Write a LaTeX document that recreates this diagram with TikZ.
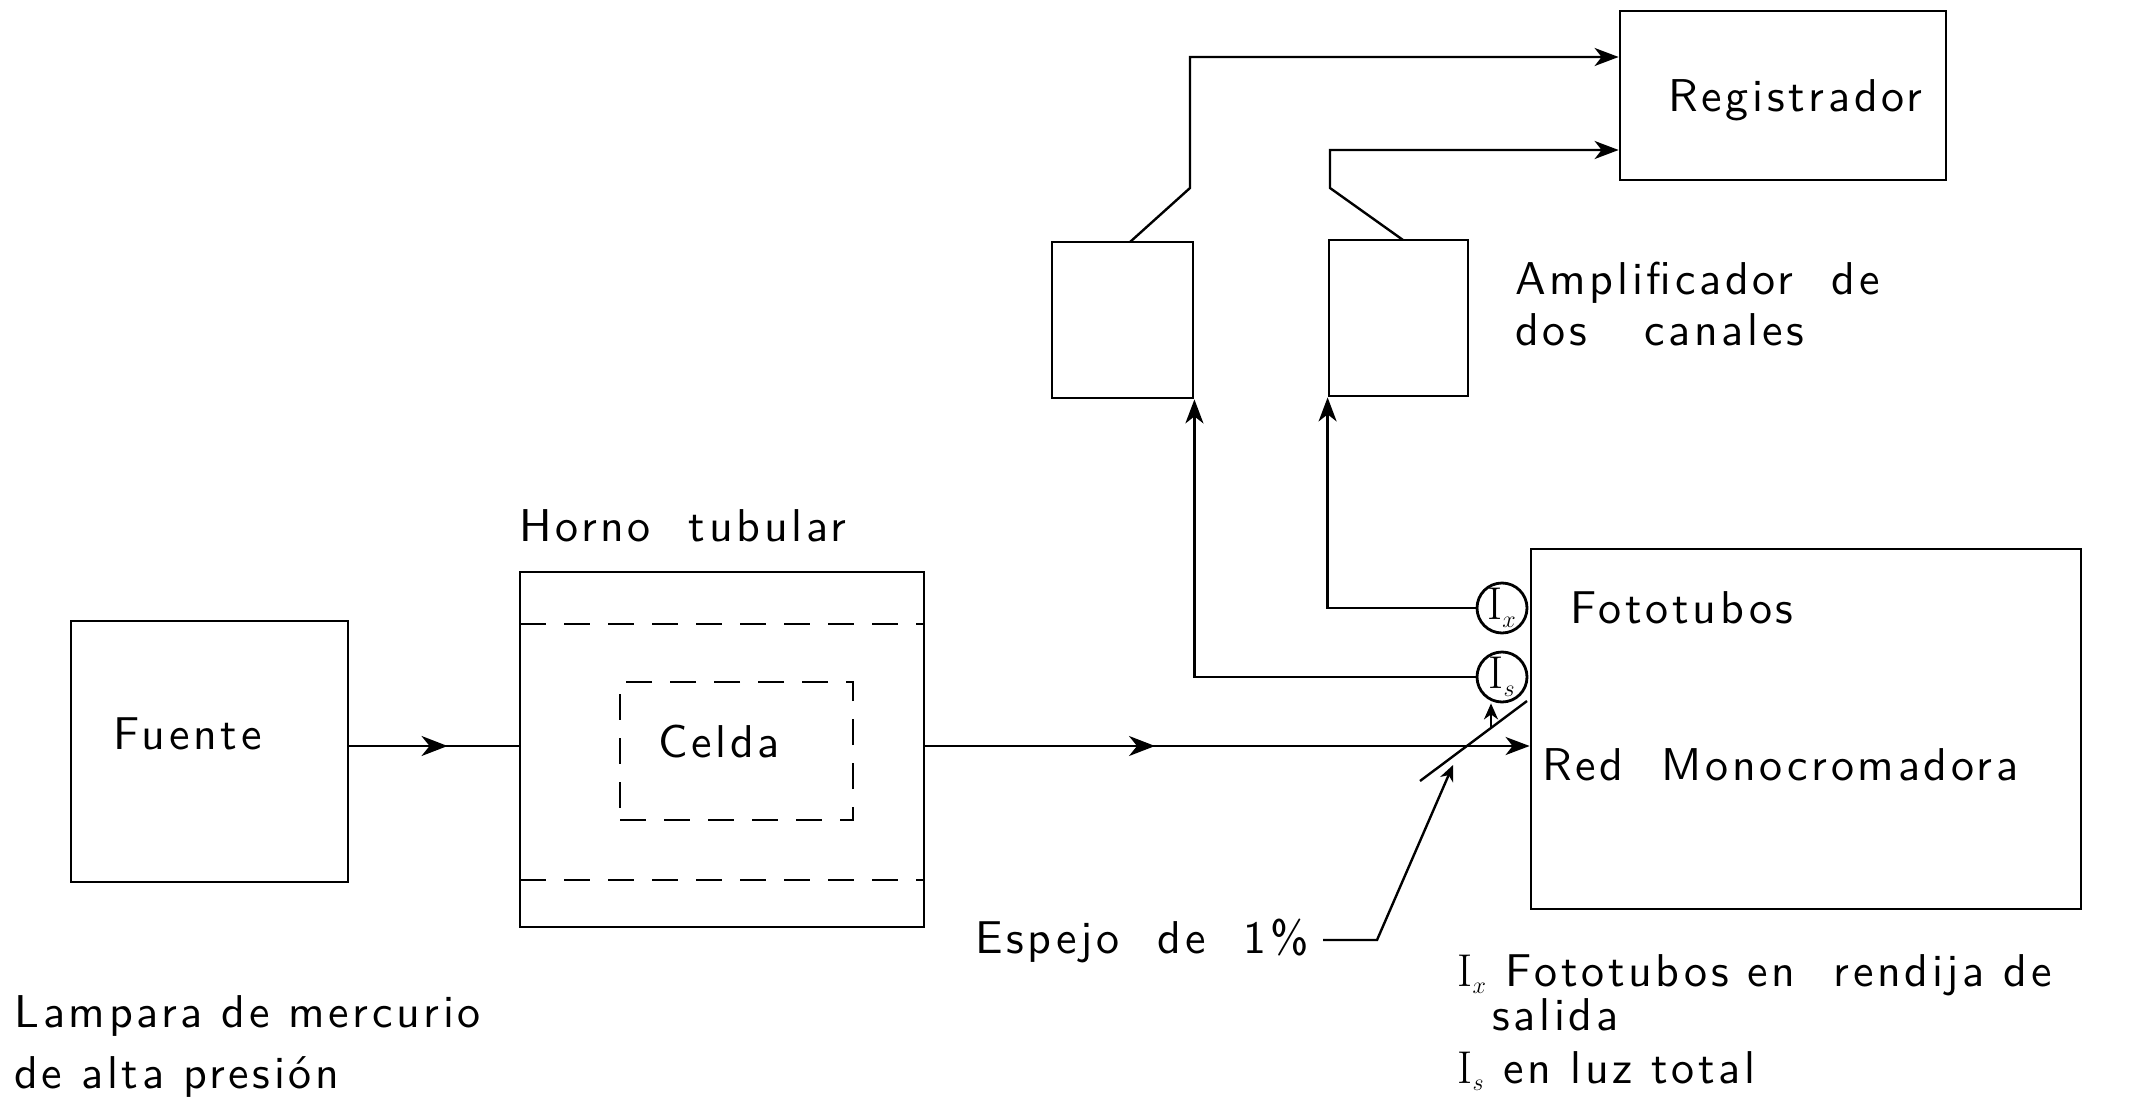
\documentclass[tikz,border=0pt]{standalone}
\usepackage{fontspec}
\usetikzlibrary{arrows.meta,decorations.markings,fit}
\newfontfamily\letfont{lmsans10-regular}[Extension=.otf, LetterSpace=8]
\newcommand\lettering{\letfont\fontsize{23}{28}\selectfont}
\begin{document}
\begin{tikzpicture}[x=0.5pt,y=-0.5pt,
  box/.style={draw, line width=1.4pt, inner sep=0pt},
  dsh/.style={line width=1.3pt, dash pattern=on 13pt off 9pt},
  ln/.style={line width=1.2pt},
  lbl/.style={font=\lettering, anchor=base west, inner sep=0pt},
  ph/.style={circle, draw, line width=1.4pt, minimum size=25pt, inner sep=0pt},
  midarrow/.style={postaction={decorate,decoration={markings,
     mark=at position #1 with {\arrow{Stealth[length=13pt,width=10pt,inset=4pt]}}}}},
  bigtip/.style={-{Stealth[length=12pt,width=9pt,inset=3.5pt]}},
  smalltip/.style={-{Stealth[length=8pt,width=7pt,inset=2.5pt]}}]
\useasboundingbox (0,0) rectangle (2140,1102);

% boxes
\node[box, fit={(71,621) (348,882)}] (fuente) {};
\node[box, fit={(520,572) (924,927)}] (horno) {};
\node[box, dsh, fit={(620,682) (853,820)}] (celda) {};
\node[box, fit={(1531,549) (2081,909)}] (mono) {};
\node[box, fit={(1620,11) (1946,180)}] (reg) {};
\node[box, fit={(1052,242) (1193,398)}] (ampL) {};
\node[box, fit={(1329,240) (1468,396)}] (ampR) {};

% dashed tube walls
\draw[dsh] (520,624) -- (924,624);
\draw[dsh] (520,880) -- (924,880);

% phototubes
\node[ph] (Ix) at (1502,608) {\fontsize{23}{23}\selectfont$\mathrm{I}_{\scriptscriptstyle x}$};
\node[ph] (Is) at (1502,677) {\fontsize{23}{23}\selectfont$\mathrm{I}_{\scriptscriptstyle s}$};

% texts
\node[lbl] (tfuente) at (113,749) {Fuente};
\node[lbl] (thorno) at (519,541) {Horno\ \ tubular};
\node[lbl] (tcelda) at (658,757) {Celda};
\node[lbl] (treg) at (1668,112) {Registrador};
\node[lbl] (tamp1) at (1515,294) {Amplificador\ \ de};
\node[lbl] (tamp2) at (1515,345) {dos\ \ \ canales};
\node[lbl] (tfoto) at (1570,623) {Fototubos};
\node[lbl] (tred) at (1542,780) {Red\ \ Monocromadora};
\node[lbl] (tesp) at (975,953) {Espejo\ \ de\ \ 1\%};
\node[lbl] (tlam1) at (14,1027) {Lampara de mercurio};
\node[lbl] (tlam2) at (14,1088) {de alta presión};
\node[lbl] (tleg1) at (1457,986) {$\mathrm{I}_{\scriptscriptstyle x}$ Fototubos\ en\ \ rendija\ de};
\node[lbl] (tleg2) at (1492,1030) {salida};
\node[lbl] (tleg3) at (1457,1083) {$\mathrm{I}_{\scriptscriptstyle s}$ en luz total};

% light beam
\coordinate (beam) at (0,746);
\draw[ln, midarrow=0.58] (fuente.east |- beam) -- (horno.west |- beam);
\draw[ln, midarrow=0.38, bigtip] (horno.east |- beam) -- (mono.west |- beam);

% mirror
\coordinate (m1) at (1420,781);
\coordinate (m2) at (1527,701);
\draw[ln] (m1) -- (m2);
\coordinate (mr) at (1491,728);
\draw[ln, smalltip] (mr) -- (mr |- Is.south);

% mirror pointer
\coordinate (p1) at (1323,940);
\coordinate (p2) at (1377,940);
\coordinate (p3) at (1453,765);
\draw[ln, smalltip] (p1) -- (p2) -- (p3);

% phototubes to amplifiers
\draw[ln, bigtip] (Ix.west) -| (ampR.south west);
\draw[ln, bigtip] (Is.west) -| (ampL.south east);

% amplifiers to recorder
\coordinate (aL) at (1130,242);
\coordinate (aLk) at (1190,188);
\coordinate (aLt) at (1190,57);
\coordinate (aR) at (1403,240);
\coordinate (aRk) at (1330,188);
\coordinate (aRt) at (1330,150);
\draw[ln, bigtip] (aL) -- (aLk) -- (aLt) -- (aLt -| reg.west);
\draw[ln, bigtip] (aR) -- (aRk) -- (aRt) -- (aRt -| reg.west);
\end{tikzpicture}
\end{document}
